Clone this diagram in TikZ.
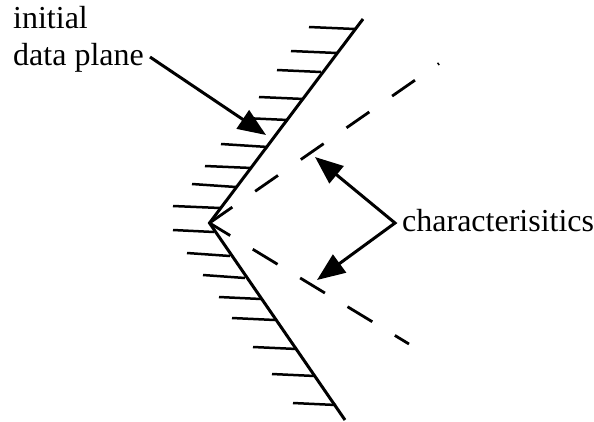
\documentclass[tikz,border=0pt]{standalone}
\usepackage{fontspec}
\setmainfont{Liberation Serif}
\usetikzlibrary{arrows.meta}
\begin{document}
\begin{tikzpicture}[x=1pt,y=-1pt,
  wall/.style={line width=3pt, line join=miter},
  hatch/.style={line width=2.5pt},
  charline/.style={line width=2.8pt},
  tipshape/.tip={Triangle[length=28pt,width=22pt]},
  pointer/.style={line width=3pt, line join=miter},
  lbl/.style={font=\fontsize{32}{38}\selectfont, inner sep=0pt, anchor=base west}]
\useasboundingbox (0,0) rectangle (594,421);
% wall
\coordinate (V) at (209.5,223);
\coordinate (U) at (363,19);
\coordinate (L) at (345,420);
\draw[wall] (U) -- (V) -- (L);
% hatches
\foreach \xa/\ya/\xb/\yb in {309/27/355/29, 291/51/337/53, 277/70/321/72, 259/97/304/99,
  244/118/288/120, 221/144/268/147, 205/166/252/168, 192/184/236/187, 173/206/220/208,
  173/230/214/232, 187/253/230/256, 203/275/245/278, 219/297/261/299, 232/318/275/320,
  253/347/297/349, 272/374/315/376, 293/403/336/405}
  \draw[hatch] (\xa,\ya) -- (\xb,\yb);
% characteristics
\coordinate (CU) at (439,63.5);
\coordinate (CL) at (409,344);
\draw[charline, dash pattern=on 27.8pt off 27.8pt] (V) -- (CU);
\draw[charline, dash pattern=on 29pt off 26.4pt, dash phase=4.8pt] (V) -- (CL);
% labels
\node[lbl] (init) at (13,28) {initial};
\node[lbl] (data) at (13,65) {data plane};
\node[lbl] (char) at (402,231.5) {characterisitics};
% pointers
\coordinate (T0) at (266,135);
\coordinate (T1) at (315,157);
\coordinate (T2) at (317,280);
\coordinate (J) at ([shift={(-7,-8.5)}]char.base west);
\draw[pointer, -tipshape] ([shift={(6,-8)}]data.base east) -- (T0);
\draw[pointer, tipshape-tipshape] (T1) -- (J) -- (T2);
\end{tikzpicture}
\end{document}
